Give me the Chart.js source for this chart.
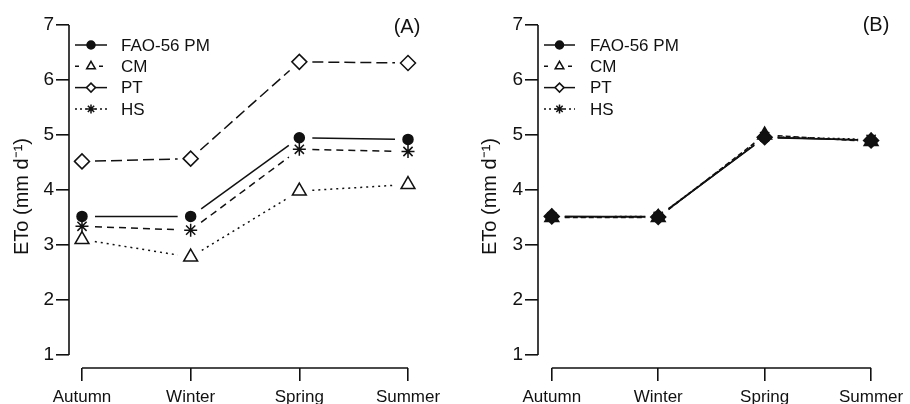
<!DOCTYPE html>
<html>
<head>
<meta charset="utf-8">
<script src="https://cdn.jsdelivr.net/npm/chart.js@4.4.0/dist/chart.umd.min.js"></script>
<style>
  html, body { margin: 0; padding: 0; background: #fff; }
  #wrap { display: flex; width: 910px; height: 404px; }
  canvas { display: block; }
</style>
</head>
<body>
<div id="wrap">
  <canvas id="chartA" width="455" height="404"></canvas>
  <canvas id="chartB" width="455" height="404"></canvas>
</div>
<script>
// dados
const seasons = ['Autumn', 'Winter', 'Spring', 'Summer'];
const yTicks = [1, 2, 3, 4, 5, 6, 7];
const seriesNames = ['FAO-56 PM', 'CM', 'PT', 'HS'];

// painel A
const faoA = [3.52, 3.52, 4.95, 4.92];
const cmA = [3.10, 2.78, 3.98, 4.10];
const ptA = [4.52, 4.57, 6.33, 6.31];
const hsA = [3.34, 3.27, 4.74, 4.70];

// painel B
const faoB = [3.52, 3.52, 4.95, 4.91];
const cmB = [3.50, 3.50, 5.00, 4.88];
const ptB = [3.52, 3.51, 4.96, 4.90];
const hsB = [3.51, 3.52, 4.97, 4.92];

const FONT = '"Liberation Sans", Arial, sans-serif';
const INK = '#111';

// estilos dos marcadores (mesma ordem de seriesNames)
const markerStyle = ['circle', 'triangle', 'rectRot', 'star'];
const markerRadius = [5, 8, 7.5, 6.5];
const legendRadius = [4, 5, 4.5, 4.5];
const legendDash = [[], [4, 20], [], [2, 3]];

// linhas com espaço em volta dos pontos (estilo type="b" do R)
const gapLines = {
  id: 'gapLines',
  beforeDatasetsDraw(chart, args, o) {
    const ctx = chart.ctx;
    chart.data.datasets.forEach((ds, i) => {
      const pts = chart.getDatasetMeta(i).data;
      ctx.save();
      ctx.strokeStyle = INK;
      ctx.lineWidth = 1.5;
      ctx.setLineDash(o.dashes[i]);
      for (let k = 0; k < pts.length - 1; k++) {
        const a = pts[k], b = pts[k + 1];
        const dx = b.x - a.x, dy = b.y - a.y;
        const len = Math.hypot(dx, dy);
        const ux = dx / len, uy = dy / len;
        ctx.beginPath();
        ctx.moveTo(a.x + ux * o.gap, a.y + uy * o.gap);
        ctx.lineTo(b.x - ux * o.gap, b.y - uy * o.gap);
        ctx.stroke();
      }
      ctx.restore();
    });
  }
};

// eixos separados (estilo R)
const rAxes = {
  id: 'rAxes',
  afterDraw(chart) {
    const ctx = chart.ctx;
    const x = chart.scales.x, y = chart.scales.y;
    const area = chart.chartArea;
    ctx.save();
    ctx.strokeStyle = INK;
    ctx.lineWidth = 1.6;
    ctx.beginPath();
    ctx.moveTo(area.left, y.getPixelForValue(yTicks[yTicks.length - 1]));
    ctx.lineTo(area.left, y.getPixelForValue(yTicks[0]));
    ctx.moveTo(x.getPixelForValue(0), area.bottom);
    ctx.lineTo(x.getPixelForValue(seasons.length - 1), area.bottom);
    ctx.stroke();
    ctx.restore();
  }
};

// legenda desenhada à mão + rótulo do painel
const panelLegend = {
  id: 'panelLegend',
  afterDraw(chart, args, o) {
    const ctx = chart.ctx;
    seriesNames.forEach((name, i) => {
      const yy = o.top + i * o.step;
      ctx.save();
      ctx.strokeStyle = INK;
      ctx.lineWidth = 1.5;
      ctx.setLineDash(legendDash[i]);
      ctx.beginPath();
      ctx.moveTo(o.x0, yy);
      ctx.lineTo(o.x1, yy);
      ctx.stroke();
      ctx.setLineDash([]);
      ctx.fillStyle = i === 0 ? INK : '#fff';
      Chart.helpers.drawPoint(ctx, {
        pointStyle: markerStyle[i], radius: legendRadius[i], rotation: 0, borderWidth: 1.4
      }, (o.x0 + o.x1) / 2, yy);
      ctx.fillStyle = INK;
      ctx.font = '17px ' + FONT;
      ctx.textAlign = 'left';
      ctx.textBaseline = 'middle';
      ctx.fillText(name, o.textX, yy + 1);
      ctx.restore();
    });
    ctx.save();
    ctx.fillStyle = INK;
    ctx.font = '20px ' + FONT;
    ctx.textAlign = 'center';
    ctx.textBaseline = 'middle';
    ctx.fillText(o.label, o.labelX, o.labelY);
    ctx.restore();
  }
};

function makeChart(id, series, panel) {
  const datasets = series.map((vals, i) => ({
    label: seriesNames[i],
    data: vals.map((v, k) => ({ x: k, y: v })),
    showLine: false,
    pointStyle: markerStyle[i],
    pointRadius: markerRadius[i],
    pointBorderWidth: 1.5,
    pointBorderColor: INK,
    pointBackgroundColor: (i === 0 || panel.solidMarkers) ? INK : '#fff',
    clip: false
  }));

  return new Chart(document.getElementById(id), {
    type: 'scatter',
    data: { datasets: datasets },
    options: {
      responsive: false,
      animation: false,
      events: [],
      devicePixelRatio: 1,
      layout: { padding: { top: 25, right: panel.padRight, left: 0, bottom: 0 } },
      plugins: {
        legend: { display: false },
        tooltip: { enabled: false },
        gapLines: { dashes: panel.dashes, gap: 13 },
        panelLegend: panel.legend
      },
      scales: {
        x: {
          type: 'linear',
          min: panel.xMin,
          max: panel.xMax,
          afterBuildTicks: s => { s.ticks = seasons.map((_, i) => ({ value: i })); },
          afterFit: s => { s.height = 36; },
          grid: { drawOnChartArea: false, drawTicks: true, tickLength: 13, color: INK, lineWidth: 1.6 },
          border: { display: false },
          ticks: {
            callback: v => seasons[Math.round(v)],
            color: INK,
            font: { family: FONT, size: 17 },
            padding: 6,
            maxRotation: 0,
            autoSkip: false
          }
        },
        y: {
          min: 1 - 13 / 55,
          max: 7,
          afterBuildTicks: s => { s.ticks = yTicks.map(v => ({ value: v })); },
          afterFit: s => { s.width = panel.yWidth; },
          grid: { drawOnChartArea: false, drawTicks: true, tickLength: 13, color: INK, lineWidth: 1.6 },
          border: { display: false },
          ticks: {
            color: INK,
            font: { family: FONT, size: 19 },
            padding: 2
          },
          title: {
            display: true,
            text: 'ETo (mm d⁻¹)',
            color: INK,
            font: { family: FONT, size: 20 },
            padding: { top: panel.titlePad, bottom: 0 }
          }
        }
      }
    },
    plugins: [gapLines, rAxes, panelLegend]
  });
}

makeChart('chartA', [faoA, cmA, ptA, hsA], {
  yWidth: 69,
  padRight: 25,
  xMin: -13 / 108.67,
  xMax: 3 + 22 / 108.67,
  titlePad: 10,
  solidMarkers: false,
  dashes: [[], [2, 4], [11, 5], [7, 5]],
  legend: { x0: 75, x1: 107, textX: 121, top: 45, step: 21.3, label: '(A)', labelX: 407, labelY: 27 }
});

makeChart('chartB', [faoB, cmB, ptB, hsB], {
  yWidth: 83,
  padRight: 15,
  xMin: -14 / 108,
  xMax: 3 + 19 / 108,
  titlePad: 23,
  solidMarkers: true,
  dashes: [[], [5, 3], [], [2, 3]],
  legend: { x0: 89, x1: 120, textX: 135, top: 45, step: 21.3, label: '(B)', labelX: 421, labelY: 25 }
});
</script>
</body>
</html>
